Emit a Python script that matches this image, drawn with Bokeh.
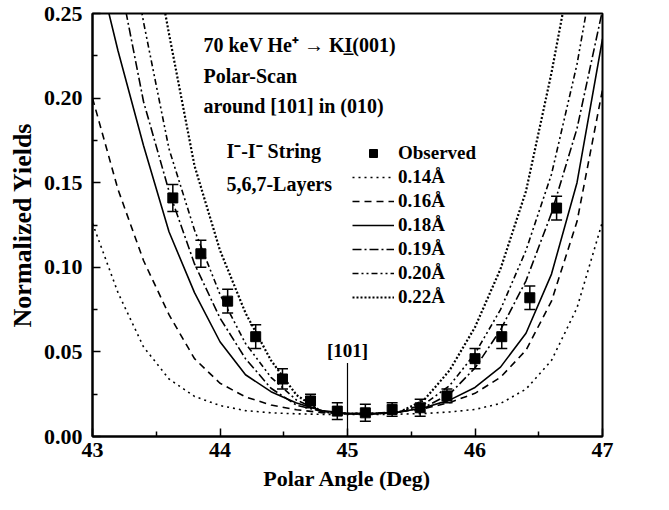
from bokeh.plotting import figure
from bokeh.models import (ColumnDataSource, Whisker, TeeHead, Legend, LegendItem,
                          Label, FixedTicker, PrintfTickFormatter, Range1d)
from bokeh.embed import file_html
from bokeh.resources import INLINE

FONT = "Liberation Serif"

# ---------------- data ----------------
obs_angle = [43.63, 43.85, 44.06, 44.28, 44.49, 44.71, 44.92, 45.14,
             45.35, 45.57, 45.78, 46.00, 46.21, 46.43, 46.64]
obs_yield = [0.141, 0.108, 0.080, 0.059, 0.034, 0.021, 0.015, 0.014,
             0.016, 0.017, 0.024, 0.046, 0.059, 0.082, 0.135]
obs_err = [0.008, 0.008, 0.007, 0.007, 0.006, 0.004, 0.005, 0.005,
           0.004, 0.005, 0.004, 0.006, 0.007, 0.007, 0.007]

calc_angle = [43.0, 43.2, 43.4, 43.6, 43.8, 44.0, 44.2, 44.4, 44.6, 44.8, 45.0,
              45.2, 45.4, 45.6, 45.8, 46.0, 46.2, 46.4, 46.6, 46.8, 47.0]
y_014 = [0.126, 0.085, 0.053, 0.034, 0.0237, 0.0183, 0.0153, 0.0140, 0.0134, 0.0131, 0.0130,
         0.0130, 0.0132, 0.0136, 0.0145, 0.0160, 0.0195, 0.028, 0.045, 0.076, 0.127]
y_016 = [0.200, 0.146, 0.104, 0.072, 0.046, 0.0315, 0.0234, 0.0186, 0.0158, 0.0141, 0.0135,
         0.0137, 0.0145, 0.0165, 0.0200, 0.0255, 0.035, 0.051, 0.080, 0.127, 0.205]
y_018 = [0.29, 0.228, 0.172, 0.121, 0.085, 0.056, 0.0365, 0.0265, 0.0198, 0.0153, 0.0135,
         0.0134, 0.0144, 0.0170, 0.0215, 0.029, 0.041, 0.061, 0.096, 0.150, 0.235]
y_019 = [0.35, 0.275, 0.198, 0.145, 0.102, 0.070, 0.046, 0.0285, 0.0185, 0.0148, 0.0135,
         0.0135, 0.0144, 0.0172, 0.025, 0.0405, 0.063, 0.092, 0.132, 0.182, 0.252]
y_020 = [0.41, 0.33, 0.245, 0.170, 0.122, 0.084, 0.055, 0.035, 0.0215, 0.0148, 0.0135,
         0.0135, 0.0146, 0.0190, 0.030, 0.049, 0.075, 0.110, 0.155, 0.220, 0.305]
y_022 = [0.48, 0.40, 0.32, 0.238, 0.160, 0.110, 0.073, 0.045, 0.0245, 0.0145, 0.0135,
         0.0135, 0.0142, 0.0215, 0.039, 0.0646, 0.099, 0.145, 0.215, 0.295, 0.375]

curve_labels = ["0.14Å", "0.16Å", "0.18Å", "0.19Å", "0.20Å", "0.22Å"]
x_ticks = [43, 44, 45, 46, 47]
x_minor = [43.5, 44.5, 45.5, 46.5]
y_ticks = [0.0, 0.05, 0.10, 0.15, 0.20, 0.25]
y_minor = [0.025, 0.075, 0.125, 0.175, 0.225]

# ---------------- figure ----------------
p = figure(width=669, height=510, output_backend="svg", toolbar_location=None,
           x_range=Range1d(43, 47), y_range=Range1d(0, 0.25),
           min_border_left=92, min_border_right=67, min_border_top=13, min_border_bottom=74)
p.grid.visible = False
p.background_fill_color = "white"
p.border_fill_color = "white"
p.outline_line_color = "black"
p.outline_line_width = 2

for ax in (p.xaxis[0], p.yaxis[0]):
    ax.axis_line_width = 2
    ax.axis_line_color = "black"
    ax.major_tick_line_color = "black"
    ax.minor_tick_line_color = "black"
    ax.major_tick_in = 8
    ax.major_tick_out = 0
    ax.minor_tick_in = 5
    ax.minor_tick_out = 0
    ax.major_tick_line_width = 1.5
    ax.minor_tick_line_width = 1.5
    ax.major_label_text_font = FONT
    ax.major_label_text_font_style = "bold"
    ax.major_label_text_font_size = "22px"
    ax.major_label_text_color = "black"
    ax.axis_label_text_font = FONT
    ax.axis_label_text_font_style = "bold"
    ax.axis_label_text_color = "black"

p.xaxis.axis_label_text_font_size = "22px"
p.yaxis.axis_label_text_font_size = "26px"
p.xaxis.ticker = FixedTicker(ticks=x_ticks, minor_ticks=x_minor)
p.yaxis.ticker = FixedTicker(ticks=y_ticks, minor_ticks=y_minor)
p.yaxis.formatter = PrintfTickFormatter(format="%.2f")
p.xaxis.formatter = PrintfTickFormatter(format="%d")
p.xaxis.axis_label = "Polar Angle (Deg)"
p.yaxis.axis_label = "Normalized Yields"
p.xaxis.major_label_standoff = 6
p.yaxis.major_label_standoff = 10
p.xaxis.axis_label_standoff = 6
p.yaxis.axis_label_standoff = 4

# ---------------- curves ----------------
styles = [
    dict(line_dash="2 4", line_width=1.6),
    dict(line_dash="7 5", line_width=1.6),
    dict(line_dash="solid", line_width=1.6),
    dict(line_dash="9 3 2 3", line_width=1.6),
    dict(line_dash="6 3 2 3 2 3", line_width=1.6),
    dict(line_dash="2 2", line_width=2.2),
]
series = [y_014, y_016, y_018, y_019, y_020, y_022]
curve_renderers = []
for ys, st in zip(series, styles):
    r = p.line(calc_angle, ys, line_color="black", **st)
    curve_renderers.append(r)

# ---------------- observed ----------------
src = ColumnDataSource(dict(
    x=obs_angle, y=obs_yield,
    lower=[v - e for v, e in zip(obs_yield, obs_err)],
    upper=[v + e for v, e in zip(obs_yield, obs_err)],
))
p.add_layout(Whisker(source=src, base="x", upper="upper", lower="lower",
                     line_color="black", line_width=1.5,
                     upper_head=TeeHead(size=11, line_width=1.5, line_color="black"),
                     lower_head=TeeHead(size=11, line_width=1.5, line_color="black")))
obs_r = p.scatter("x", "y", source=src, marker="square", size=10,
                  fill_color="black", line_color="black")

# ---------------- legend ----------------
items = [LegendItem(label="Observed", renderers=[obs_r])]
for lab, r in zip(curve_labels, curve_renderers):
    items.append(LegendItem(label=lab, renderers=[r]))
legend = Legend(items=items, location=(260, 128),
                label_text_font=FONT, label_text_font_style="bold",
                label_text_font_size="19px", label_text_color="black",
                glyph_width=42, glyph_height=20, label_height=20,
                spacing=2, padding=0, margin=0, label_standoff=4,
                border_line_color=None, background_fill_alpha=0)
p.add_layout(legend)

# ---------------- annotations ----------------
def add_text(x, y, txt, align="left", size="20px"):
    p.add_layout(Label(x=x, y=y, text=txt, text_font=FONT, text_font_style="bold",
                       text_font_size=size, text_baseline="middle", text_align=align,
                       text_color="black"))

add_text(43.87, 0.2315, "70 keV He\u207a \u2192 KI\u0332(001)")
add_text(43.87, 0.2132, "Polar-Scan")
add_text(43.87, 0.1956, "around [101] in (010)")
add_text(44.05, 0.1690, "I\u207b-I\u207b String")
add_text(44.05, 0.1490, "5,6,7-Layers")
add_text(45.0, 0.051, "[101]", align="center", size="19px")
p.segment(x0=[45.0], y0=[0.0435], x1=[45.0], y1=[0.0], line_color="black", line_width=1.2)

open("out.html", "w").write(file_html(p, INLINE))
